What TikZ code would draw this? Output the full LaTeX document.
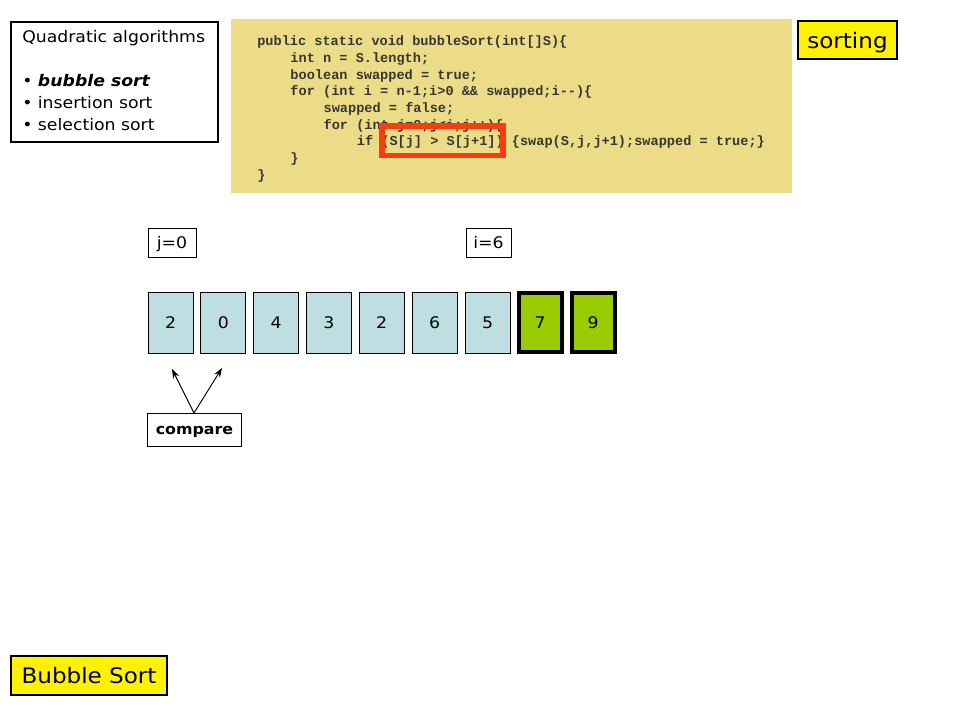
\documentclass[tikz,border=0pt]{standalone}
\usepackage{fontspec}
\setmainfont{DejaVu Sans}[FakeStretch=1.08]
\newfontfamily\codefont{Liberation Mono}
\usetikzlibrary{arrows.meta}
\definecolor{codebg}{RGB}{237,220,135}
\definecolor{cellblue}{RGB}{190,222,226}
\definecolor{cellgreen}{RGB}{153,204,0}
\definecolor{hired}{RGB}{250,60,15}
\definecolor{codetext}{RGB}{55,55,50}
\tikzset{
  plainbox/.style={draw=black, line width=0.8pt, fill=white},
  yellowbox/.style={draw=black, line width=0.8pt, fill=yellow, text depth=0pt},
  cell/.style={draw=black, line width=0.6pt, fill=cellblue, minimum width=45*0.75pt, minimum height=61*0.75pt, inner sep=0pt, font=\fontsize{12}{14}\selectfont},
  donecell/.style={draw=black, line width=3pt, fill=cellgreen, minimum width=43*0.75pt, minimum height=59*0.75pt, inner sep=0pt, font=\fontsize{12}{14}\selectfont},
  codeline/.style={anchor=base west, inner sep=0pt, font=\codefont\bfseries\fontsize{10.2}{12}\selectfont, text=codetext},
  listline/.style={anchor=base west, inner sep=0pt, font=\fontsize{12}{14}\selectfont},
  label/.style={draw=black, line width=0.6pt, fill=white, inner sep=0pt, text depth=0pt, font=\fontsize{12}{14}\selectfont},
  ptr/.style={-{Stealth[length=7pt,width=5pt]}, line width=0.7pt}
}
\begin{document}
\begin{tikzpicture}[x=0.75pt,y=-0.75pt]
\useasboundingbox (0,0) rectangle (960,720);
% top left box
\node[plainbox, minimum width=207*0.75pt, minimum height=120*0.75pt, inner sep=0pt] (qbox) at (114.5,82) {};
\node[listline] (q1) at (22,43) {Quadratic algorithms};
\node[listline] (q2) at (22,87) {\textbullet\ \textbf{\itshape bubble sort}};
\node[listline] (q3) at (22,109) {\textbullet\ insertion sort};
\node[listline] (q4) at (22,131) {\textbullet\ selection sort};
% code box
\node[fill=codebg, minimum width=561*0.75pt, minimum height=174*0.75pt, inner sep=0pt] (code) at (511.5,106.5) {};
\node[codeline] (c1) at (257,45.7) {public static void bubbleSort(int[]S)\{};
\node[codeline] (c2) at (290.2,62.4) {int n = S.length;};
\node[codeline] (c3) at (290.2,79.1) {boolean swapped = true;};
\node[codeline] (c4) at (290.2,95.8) {for (int i = n-1;i>0 \&\& swapped;i-{}-)\{};
\node[codeline] (c5) at (323.4,112.5) {swapped = false;};
\node[codeline] (c6) at (323.4,129.2) {for (int j=0;j<i;j++)\{};
\node[codeline] (c7) at (356.6,145.9) {if (S[j] > S[j+1]) \{swap(S,j,j+1);swapped = true;\}};
\node[codeline] (c8) at (290.2,162.6) {\}};
\node[codeline] (c9) at (257,179.3) {\}};
\draw[draw=hired, line width=4.1pt] (382.2,126) rectangle (502.9,155.5);
% sorting
\node[yellowbox, minimum width=99*0.75pt, minimum height=38*0.75pt, inner sep=0pt, font=\fontsize{16}{18}\selectfont] (sorting) at (847.5,40) {sorting};
% pointers
\node[label, minimum width=48*0.75pt, minimum height=29*0.75pt] (jlab) at (172,242.5) {j=0};
\node[label, minimum width=45*0.75pt, minimum height=29*0.75pt] (ilab) at (488.5,242.5) {i=6};
% array
\node[cell] (a0) at (170.5,322.5) {2};
\node[cell] (a1) at (223.3,322.5) {0};
\node[cell] (a2) at (276.1,322.5) {4};
\node[cell] (a3) at (328.9,322.5) {3};
\node[cell] (a4) at (381.7,322.5) {2};
\node[cell] (a5) at (434.5,322.5) {6};
\node[cell] (a6) at (487.5,322.5) {5};
\node[donecell] (a7) at (540,322.5) {7};
\node[donecell] (a8) at (593,322.5) {9};
% compare
\node[label, minimum width=94*0.75pt, minimum height=33*0.75pt, font=\bfseries\fontsize{11}{13}\selectfont] (cmp) at (194.5,430) {compare};
\coordinate (ctop) at (194,413);
\coordinate (t0) at (172,369);
\coordinate (t1) at (222,368);
\draw[ptr] (ctop) -- (t0);
\draw[ptr] (ctop) -- (t1);
% bubble sort title
\node[yellowbox, minimum width=156*0.75pt, minimum height=39*0.75pt, inner sep=0pt, font=\fontsize{16}{18}\selectfont] (title) at (89,675.5) {Bubble Sort};
\end{tikzpicture}
\end{document}
